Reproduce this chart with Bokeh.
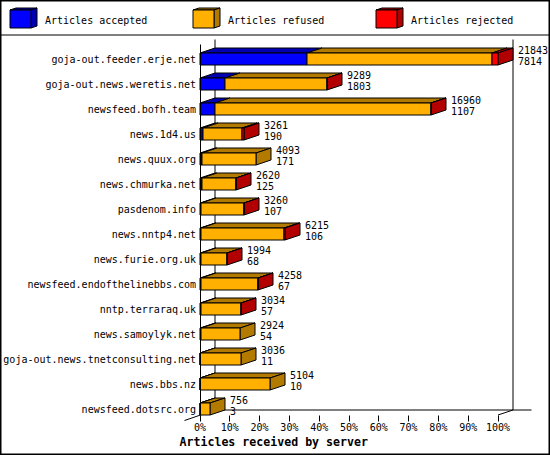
from bokeh.plotting import figure
from bokeh.models import Range1d, LinearAxis, FixedTicker, PrintfTickFormatter
from bokeh.core.properties import value
from bokeh.embed import file_html
from bokeh.resources import INLINE

servers = ["goja-out.feeder.erje.net", "goja-out.news.weretis.net", "newsfeed.bofh.team",
           "news.1d4.us", "news.quux.org", "news.chmurka.net", "pasdenom.info", "news.nntp4.net",
           "news.furie.org.uk", "newsfeed.endofthelinebbs.com", "nntp.terraraq.uk",
           "news.samoylyk.net", "goja-out.news.tnetconsulting.net", "news.bbs.nz", "newsfeed.dotsrc.org"]
received = [21843, 9289, 16960, 3261, 4093, 2620, 3260, 6215, 1994, 4258, 3034, 2924, 3036, 5104, 756]
accepted = [7814, 1803, 1107, 190, 171, 125, 107, 106, 68, 67, 57, 54, 11, 10, 3]
rejected = [420, 5, 40, 170, 0, 5, 5, 40, 5, 5, 5, 0, 0, 0, 0]
series_names = ["Articles accepted", "Articles refused", "Articles rejected"]
front_colors = ["#0000FF", "#FFB000", "#FF0000"]
dark_colors = ["#0000B2", "#B27B00", "#B20000"]
x_ticks = [0, 10, 20, 30, 40, 50, 60, 70, 80, 90, 100]
x_title = "Articles received by server"

W, H = 550, 455
X0, PX_PER_PCT = 200.5, 2.98
Y0, ROW = 59.5, 25.0
DX, DY, HALF = 15, 5, 6
MONO = value("DejaVu Sans Mono")


def dx(px):
    return (px - X0) / PX_PER_PCT


def dy(px):
    return (px - Y0) / ROW


def snap(pct):
    px = X0 + pct * PX_PER_PCT
    return dx(int(px) + 0.5)


p = figure(width=W, height=H, output_backend="svg", toolbar_location=None,
           x_range=Range1d(dx(1), dx(W + 1)), y_range=Range1d(dy(H + 1), dy(1)),
           x_axis_type=None, y_axis_type=None, min_border=0, margin=0,
           background_fill_color="white", border_fill_color="white")
p.grid.visible = False
p.outline_line_color = "black"
p.outline_line_width = 2


def seg(x0, y0, x1, y1, width=1):
    p.segment([dx(x0)], [dy(y0)], [dx(x1)], [dy(y1)], line_color="black", line_width=width)


# header separator and 3-D frame
seg(0, 35.5, W + 2, 35.5)
seg(215.5, 40, 215.5, 410.5)
seg(513.5, 40, 513.5, 410.5)
seg(215.5, 410.5, 532, 410.5)
seg(185, 421, 215.5, 410.5)
seg(498.5, 415.5, 513.5, 410.5)

# bars
fx, fy, fc, tx, ty, tc = [], [], [], [], [], []
sx, sy, sc = [], [], []
ox, oy = dx(X0 + DX), dy(Y0 - DY)
hh = HALF / ROW
label_x = []
for i, total in enumerate(received):
    vals = [accepted[i], total - accepted[i] - rejected[i], rejected[i]]
    left = 0.0
    cum = 0
    last = 1
    for k, v in enumerate(vals):
        if v <= 0:
            continue
        cum += v
        right = snap(100.0 * cum / received[0])
        b, t = i + hh, i - hh
        fx.append([left, right, right, left])
        fy.append([b, b, t, t])
        fc.append(front_colors[k])
        tx.append([left, right, right + ox, left + ox])
        ty.append([t, t, t + oy, t + oy])
        tc.append(dark_colors[k])
        left = right
        last = k
    b, t = i + hh, i - hh
    sx.append([left, left + ox, left + ox, left])
    sy.append([b, b + oy, t + oy, t])
    sc.append(dark_colors[last])
    label_x.append(left + ox + 5 / PX_PER_PCT)

for xs, ys, cs in ((tx, ty, tc), (sx, sy, sc), (fx, fy, fc)):
    p.patches(xs, ys, fill_color=cs, line_color="black", line_width=1)

rows = list(range(len(servers)))
p.text(label_x, [r + dy(Y0 - 9.5) for r in rows], text=[str(v) for v in received],
       text_font=MONO, text_font_size="10px", text_align="left", text_baseline="middle", text_color="black")
p.text(label_x, [r + dy(Y0 + 2) for r in rows], text=[str(v) for v in accepted],
       text_font=MONO, text_font_size="10px", text_align="left", text_baseline="middle", text_color="black")

# legend
for k, name in enumerate(series_names):
    x0 = 10.5 + 183 * k
    x1, x2 = x0 + 21, x0 + 27
    yb, yt, yy = 28.5, 10.5, 8.5
    p.patch([dx(x0), dx(x1), dx(x2), dx(x0 + 6)], [dy(yt), dy(yt), dy(yy), dy(yy)],
            fill_color=dark_colors[k], line_color="black")
    p.patch([dx(x1), dx(x2), dx(x2), dx(x1)], [dy(yb), dy(yb - 2), dy(yy), dy(yt)],
            fill_color=dark_colors[k], line_color="black")
    p.patch([dx(x0), dx(x1), dx(x1), dx(x0)], [dy(yb), dy(yb), dy(yt), dy(yt)],
            fill_color=front_colors[k], line_color="black")
    p.text([dx(x0 + 35)], [dy(21)], text=[name], text_font=MONO, text_font_size="10px",
           text_align="left", text_baseline="middle", text_color="black")

p.text([dx(180)], [dy(442)], text=[x_title], text_font=MONO, text_font_size="11.6px",
       text_font_style="bold", text_align="left", text_baseline="middle", text_color="black")

# real axes
xaxis = LinearAxis(ticker=FixedTicker(ticks=x_ticks), formatter=PrintfTickFormatter(format="%d%%"),
                   fixed_location=dy(415.5), bounds=(0, 100))
xaxis.axis_line_color = None
xaxis.major_tick_in = 0
xaxis.major_tick_out = 6
xaxis.minor_tick_line_color = None
xaxis.major_tick_line_color = "black"
xaxis.major_label_standoff = 1
xaxis.major_label_text_font = "DejaVu Sans Mono"
xaxis.major_label_text_font_size = "10px"
xaxis.major_label_text_color = "black"
p.add_layout(xaxis, "below")

yaxis = LinearAxis(ticker=FixedTicker(ticks=rows), fixed_location=0, bounds=(dy(45), dy(415.5)))
yaxis.major_label_overrides = {r: s for r, s in zip(rows, servers)}
yaxis.axis_line_color = "black"
yaxis.major_tick_line_color = None
yaxis.minor_tick_line_color = None
yaxis.major_tick_in = 0
yaxis.major_tick_out = 0
yaxis.major_label_standoff = 4
yaxis.major_label_text_font = "DejaVu Sans Mono"
yaxis.major_label_text_font_size = "10px"
yaxis.major_label_text_color = "black"
p.add_layout(yaxis, "left")

open("out.html", "w").write(file_html(p, INLINE))
